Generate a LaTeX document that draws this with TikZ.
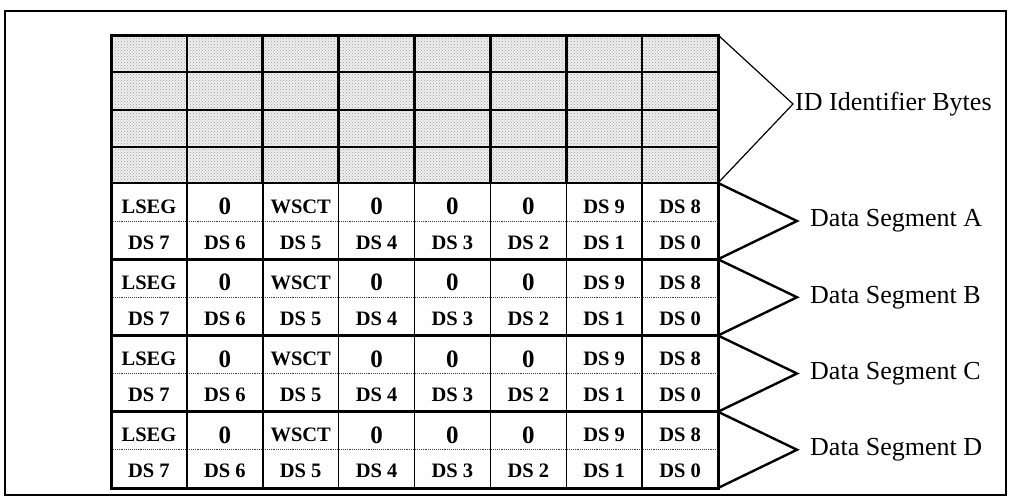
\documentclass[tikz,border=0pt]{standalone}
\usepackage{fontspec}
\setmainfont{Liberation Serif}
\usetikzlibrary{patterns}
\begin{document}
\begin{tikzpicture}[x=1pt,y=-1pt,
  cell/.style={font=\fontsize{20.5}{20.5}\selectfont\bfseries, inner sep=0pt},
  zero/.style={font=\fontsize{25}{25}\selectfont\bfseries, inner sep=0pt},
  lbl/.style={font=\fontsize{26}{26}\selectfont, anchor=west, inner ysep=0pt},
  frame/.style={line width=1.8pt},
  gridborder/.style={line width=3pt},
  idline/.style={line width=2.6pt},
  segline/.style={line width=2.8pt},
  colline/.style={line width=1.5pt},
  midline/.style={line width=0.9pt, black!75, densely dotted},
  pointer/.style={line width=2.4pt, line join=miter},
  idpointer/.style={line width=1.2pt, line join=miter}]
\useasboundingbox (0,0) rectangle (1009,499);
\fill[white] (0,0) rectangle (1009,499);
% outer frame
\draw[frame] (5,11) rectangle (1006,495);
% ID area
\fill[gray!12] (111,35) rectangle (718,183);
\fill[pattern=crosshatch dots, pattern color=gray!80] (111,35) rectangle (718,183);
\foreach \k in {1,...,7} {
  \draw[idline] ({111+75.875*\k},35) -- ({111+75.875*\k},183);
}
\foreach \y in {72,110,147} {
  \draw[idline] (111,\y) -- (718,\y);
}
% data area
\foreach \s in {0,1,2,3} {
  \draw[midline] (111,{183+76.25*\s+38}) -- (718,{183+76.25*\s+38});
}
\foreach \k in {1,...,7} {
  \draw[colline] ({111+75.875*\k},183) -- ({111+75.875*\k},488);
}
\foreach \s in {1,2,3} {
  \draw[segline] (111,{183+76.25*\s}) -- (718,{183+76.25*\s});
}
\draw[segline] (111,183) -- (718,183);
\draw[gridborder] (111,35) rectangle (718,488);
% cell texts
\foreach \s/\seg in {0/A,1/B,2/C,3/D} {
  \foreach \t/\st [count=\k from 0] in {LSEG/cell,0/zero,WSCT/cell,0/zero,0/zero,0/zero,DS 9/cell,DS 8/cell} {
    \node[\st] (c\seg r1k\k) at ({111+75.875*(\k+0.5)},{183+76.25*\s+23.5}) {\t};
  }
  \foreach \t [count=\k from 0] in {DS 7,DS 6,DS 5,DS 4,DS 3,DS 2,DS 1,DS 0} {
    \node[cell] (c\seg r2k\k) at ({111+75.875*(\k+0.5)},{183+76.25*\s+59.5}) {\t};
  }
}
% ID label and pointer
\coordinate (idtop) at (718,35);
\coordinate (idbot) at (718,183);
\node[lbl, inner xsep=2pt] (idl) at (793,104) {ID Identifier Bytes};
\draw[idpointer] (idtop) -- (idl.west) -- (idbot);
% segment labels and pointers
\foreach \s/\seg in {0/A,1/B,2/C,3/D} {
  \coordinate (t\seg) at (718,{183+76.25*\s});
  \coordinate (b\seg) at (718,{183+76.25*(\s+1)});
  \node[lbl, inner xsep=13pt] (l\seg) at (797,{183+76.25*\s+38}) {Data Segment \seg};
  \draw[pointer] (t\seg) -- (l\seg.west) -- (b\seg);
}
\end{tikzpicture}
\end{document}
